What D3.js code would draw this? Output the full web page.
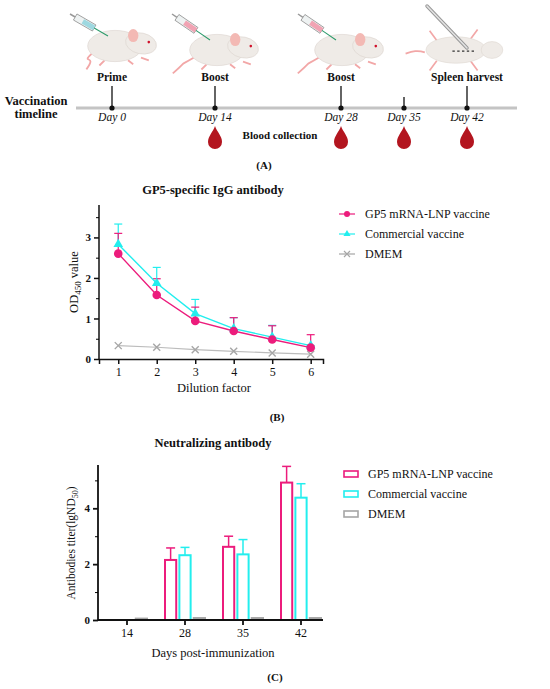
<!DOCTYPE html>
<html>
<head>
<meta charset="utf-8">
<script src="https://cdn.jsdelivr.net/npm/d3@7"></script>
<style>
  body { margin: 0; background: #fff; }
  svg text { font-family: "Liberation Serif", "DejaVu Serif", serif !important; fill: #111; }
</style>
</head>
<body>
<svg id="fig" width="550" height="689" font-family="Liberation Serif, DejaVu Serif, serif"></svg>
<script>
// ---- data ----
// panel A: timeline
const timelineDays = [0, 14, 28, 35, 42];
const eventLabels = ["Prime", "Boost", "Boost", "", "Spleen harvest"];
const bloodDays = [14, 28, 35, 42];

// panel B: GP5-specific IgG (OD450)
const dilutions = [1, 2, 3, 4, 5, 6];
const gp5Od = [2.60, 1.58, 0.94, 0.69, 0.48, 0.28];
const gp5OdUpper = [3.10, 1.98, 1.28, 1.02, 0.82, 0.60];
const comOd = [2.83, 1.87, 1.12, 0.75, 0.54, 0.33];
const comOdUpper = [3.33, 2.26, 1.47, 1.02, 0.83, 0.33];
const dmemOd = [0.33, 0.29, 0.23, 0.19, 0.15, 0.12];

// panel C: neutralizing antibody
const days = ["14", "28", "35", "42"];
const groups = ["GP5 mRNA-LNP vaccine", "Commercial vaccine", "DMEM"];
const gp5Titer = [0, 2.15, 2.62, 4.92];
const gp5TiterUpper = [0, 2.58, 3.00, 5.50];
const comTiter = [0, 2.32, 2.35, 4.38];
const comTiterUpper = [0, 2.60, 2.88, 4.88];
const dmemTiter = [0.05, 0.07, 0.07, 0.07];

const PINK = "#ec1c7c", CYAN = "#22eeee", GREY = "#a6a6a6";
const svg = d3.select("#fig");

// ================= panel A =================
const A = svg.append("g");
const tx = d3.scaleLinear().domain([0, 14, 42]).range([112, 215, 467]);

// little mouse drawings (decoration only)
function sideMouse(x, y, tailLen) {
  const m = A.append("g").attr("transform", `translate(${x},${y}) scale(1.3)`);
  m.append("path").attr("d", `M-18,6 C${-18 - tailLen * 0.4},14 ${-tailLen * 0.6},6 ${-tailLen},18`)
    .attr("fill", "none").attr("stroke", "#f2a7a7").attr("stroke-width", 1.4);
  m.append("path").attr("d", "M-8,11 l-4,4 M10,11 l4,3 M20,9 l6,2")
    .attr("stroke", "#f2a7a7").attr("stroke-width", 1.4);
  m.append("ellipse").attr("cx", 0).attr("cy", 0).attr("rx", 21).attr("ry", 12)
    .attr("fill", "#efebe7").attr("stroke", "#ddd6d0").attr("stroke-width", 0.5);
  m.append("ellipse").attr("cx", 20).attr("cy", -2).attr("rx", 12).attr("ry", 8)
    .attr("transform", "rotate(12,20,-2)")
    .attr("fill", "#efebe7").attr("stroke", "#ddd6d0").attr("stroke-width", 0.5);
  m.append("ellipse").attr("cx", 14).attr("cy", -8).attr("rx", 4).attr("ry", 5)
    .attr("fill", "#f3b9b4");
  m.append("circle").attr("cx", 26).attr("cy", -3).attr("r", 1).attr("fill", "#d0102a");
}
function syringe(x1, y1, x2, y2, col) {
  const ang = Math.atan2(y2 - y1, x2 - x1) * 180 / Math.PI;
  const len = Math.hypot(x2 - x1, y2 - y1);
  const s = A.append("g").attr("transform", `translate(${x1},${y1}) rotate(${ang})`);
  s.append("line").attr("x1", 0).attr("x2", 6).attr("y1", 0).attr("y2", 0).attr("stroke", "#999").attr("stroke-width", 1.5);
  s.append("rect").attr("x", 6).attr("y", -3.5).attr("width", len * 0.5).attr("height", 7)
    .attr("fill", "#eef2f2").attr("stroke", "#888").attr("stroke-width", 0.7);
  s.append("rect").attr("x", 6 + len * 0.2).attr("y", -2.5).attr("width", len * 0.3).attr("height", 5).attr("fill", col);
  s.append("line").attr("x1", 6 + len * 0.5).attr("x2", len).attr("y1", 0).attr("y2", 0).attr("stroke", "#2a9a6a").attr("stroke-width", 1);
}
sideMouse(115, 46, 22);
sideMouse(217, 50, 34);
sideMouse(342, 50, 34);
syringe(70, 14, 108, 36, "#9ed8e0");
syringe(172, 14, 210, 40, "#f1a3b3");
syringe(298, 14, 336, 40, "#f1a3b3");
// spleen-harvest mouse, seen from above
const sm = A.append("g").attr("transform", "translate(456,50) scale(1.2)");
sm.append("path").attr("d", "M-26,2 C-32,0 -36,1 -42,3").attr("fill", "none").attr("stroke", "#f2a7a7").attr("stroke-width", 1.4);
sm.append("path").attr("d", "M-16,-8 l-6,-8 M-16,9 l-6,8 M12,-9 l6,-8 M12,9 l6,8")
  .attr("stroke", "#f2a7a7").attr("stroke-width", 1.4);
sm.append("ellipse").attr("rx", 25).attr("ry", 11).attr("fill", "#efebe7").attr("stroke", "#ddd6d0").attr("stroke-width", 0.5);
sm.append("ellipse").attr("cx", 30).attr("cy", 0).attr("rx", 9).attr("ry", 7).attr("fill", "#efebe7").attr("stroke", "#ddd6d0").attr("stroke-width", 0.5);
sm.append("path").attr("d", "M-3,1 L16,1").attr("stroke", "#333").attr("stroke-dasharray", "2,2");
A.append("line").attr("x1", 427).attr("y1", 6).attr("x2", 467).attr("y2", 48)
  .attr("stroke", "#999").attr("stroke-width", 3.5).attr("stroke-linecap", "round");
A.append("line").attr("x1", 427).attr("y1", 6).attr("x2", 467).attr("y2", 48)
  .attr("stroke", "#e4e4e4").attr("stroke-width", 1.5).attr("stroke-linecap", "round");

A.append("line").attr("x1", 76).attr("x2", 517).attr("y1", 108).attr("y2", 108)
  .attr("stroke", "#c4c4c4").attr("stroke-width", 3);
A.selectAll(".tick-v").data(timelineDays).join("line")
  .attr("x1", d => tx(d)).attr("x2", d => tx(d))
  .attr("y1", d => d === 35 ? 97 : 86).attr("y2", 108)
  .attr("stroke", "#111").attr("stroke-width", 1.3);
A.selectAll(".dot").data(timelineDays).join("circle")
  .attr("cx", d => tx(d)).attr("cy", 108).attr("r", 2.6).attr("fill", "#111");
A.selectAll(".ev").data(timelineDays).join("text")
  .attr("x", d => tx(d)).attr("y", 81).attr("text-anchor", "middle")
  .attr("font-size", 11.5).attr("font-weight", "bold")
  .text((d, i) => eventLabels[i]);
A.selectAll(".day").data(timelineDays).join("text")
  .attr("x", d => tx(d)).attr("y", 121).attr("text-anchor", "middle")
  .attr("font-size", 11.5).attr("font-style", "italic")
  .text(d => "Day " + d);
A.selectAll(".drop").data(bloodDays).join("path")
  .attr("transform", d => `translate(${tx(d)},138)`)
  .attr("d", "M0,-12 C2,-6 7,-2 7,4 A7,7 0 0 1 -7,4 C-7,-2 -2,-6 0,-12Z")
  .attr("fill", "#b3151f");
A.append("text").attr("x", 280).attr("y", 139).attr("text-anchor", "middle")
  .attr("font-size", 11).attr("font-weight", "bold").text("Blood collection");
A.append("text").attr("x", 36).attr("y", 105).attr("text-anchor", "middle")
  .attr("font-size", 12.5).attr("font-weight", "bold").text("Vaccination");
A.append("text").attr("x", 36).attr("y", 118).attr("text-anchor", "middle")
  .attr("font-size", 12.5).attr("font-weight", "bold").text("timeline");
A.append("text").attr("x", 264).attr("y", 169).attr("text-anchor", "middle")
  .attr("font-size", 11).attr("font-weight", "bold").text("(A)");

// ================= panel B =================
const B = svg.append("g");
const xB = d3.scaleLinear().domain([0.5, 6.32]).range([99, 323]);
const yB = d3.scaleLinear().domain([0, 3.8]).range([359, 205]);

B.append("text").attr("x", 213).attr("y", 194).attr("text-anchor", "middle")
  .attr("font-size", 12.5).attr("font-weight", "bold").text("GP5-specific IgG antibody");

const axB = B.append("g").attr("transform", "translate(0,359)")
  .call(d3.axisBottom(xB).tickValues(dilutions).tickFormat(d3.format("d")).tickSize(5).tickPadding(3));
const ayB = B.append("g").attr("transform", "translate(99,0)")
  .call(d3.axisLeft(yB).tickValues([0, 1, 2, 3]).tickFormat(d3.format("d")).tickSize(5).tickPadding(3));
B.append("g").attr("transform", "translate(99,0)")
  .call(d3.axisLeft(yB).tickValues([0.5, 1.5, 2.5, 3.5]).tickFormat("").tickSize(3))
  .select(".domain").remove();
[axB, ayB].forEach(a => {
  a.attr("font-family", null);
  a.selectAll("path,line").attr("stroke", "#111").attr("stroke-width", 1.5);
  a.selectAll("text").attr("font-size", 12).attr("fill", "#111");
});
ayB.selectAll("text").attr("font-size", 11).attr("font-weight", "bold");
ayB.select(".domain").attr("d", "M0,205V359");

B.append("text").attr("x", 214).attr("y", 392).attr("text-anchor", "middle")
  .attr("font-size", 12.5).text("Dilution factor");
const ylB = B.append("text").attr("transform", "translate(78,282) rotate(-90)")
  .attr("text-anchor", "middle").attr("font-size", 12.5);
ylB.append("tspan").text("OD");
ylB.append("tspan").attr("font-size", 9).attr("dy", 3).text("450");
ylB.append("tspan").attr("dy", -3).text(" value");
B.append("text").attr("x", 277).attr("y", 421).attr("text-anchor", "middle")
  .attr("font-size", 11).attr("font-weight", "bold").text("(B)");

const lineGen = d3.line().x((d, i) => xB(dilutions[i])).y(d => yB(d));
function errUp(g, vals, ups, col) {
  g.selectAll(null).data(vals).join("line")
    .attr("x1", (d, i) => xB(dilutions[i])).attr("x2", (d, i) => xB(dilutions[i]))
    .attr("y1", d => yB(d)).attr("y2", (d, i) => yB(ups[i]))
    .attr("stroke", col).attr("stroke-width", 1.2);
  g.selectAll(null).data(ups).join("line")
    .attr("x1", (d, i) => xB(dilutions[i]) - 4).attr("x2", (d, i) => xB(dilutions[i]) + 4)
    .attr("y1", d => yB(d)).attr("y2", d => yB(d))
    .attr("stroke", col).attr("stroke-width", 1.2);
}
B.append("path").datum(dmemOd).attr("d", lineGen).attr("fill", "none").attr("stroke", "#bcbcbc").attr("stroke-width", 1.2);
B.selectAll(".xm").data(dmemOd).join("path")
  .attr("transform", (d, i) => `translate(${xB(dilutions[i])},${yB(d)})`)
  .attr("d", "M-3.5,-3.5L3.5,3.5M-3.5,3.5L3.5,-3.5").attr("stroke", GREY).attr("stroke-width", 1.4);

errUp(B, comOd, comOdUpper, CYAN);
errUp(B, gp5Od, gp5OdUpper, PINK);
B.append("path").datum(comOd).attr("d", lineGen).attr("fill", "none").attr("stroke", CYAN).attr("stroke-width", 1.4);
B.append("path").datum(gp5Od).attr("d", lineGen).attr("fill", "none").attr("stroke", PINK).attr("stroke-width", 1.4);
B.selectAll(".tri").data(comOd).join("path")
  .attr("transform", (d, i) => `translate(${xB(dilutions[i])},${yB(d)})`)
  .attr("d", d3.symbol(d3.symbolTriangle, 40)).attr("fill", CYAN);
B.selectAll(".circ").data(gp5Od).join("circle")
  .attr("cx", (d, i) => xB(dilutions[i])).attr("cy", d => yB(d)).attr("r", 4.3).attr("fill", PINK);

// legend B
const legB = B.append("g");
const legSym = [
  g => g.append("circle").attr("r", 3).attr("fill", PINK),
  g => g.append("path").attr("d", d3.symbol(d3.symbolTriangle, 22)).attr("fill", CYAN),
  g => g.append("path").attr("d", "M-3,-3L3,3M-3,3L3,-3").attr("stroke", GREY).attr("stroke-width", 1.2)
];
const legCol = [PINK, CYAN, GREY];
groups.forEach((name, i) => {
  const y = 214 + i * 20;
  legB.append("line").attr("x1", 339).attr("x2", 355).attr("y1", y).attr("y2", y)
    .attr("stroke", legCol[i]).attr("stroke-width", 1.2);
  legSym[i](legB.append("g").attr("transform", `translate(347,${y})`));
  legB.append("text").attr("x", 365).attr("y", y + 4).attr("font-size", 12).text(name);
});

// ================= panel C =================
const C = svg.append("g");
const xC = d3.scaleBand().domain(days).range([98, 330]);
const x1C = d3.scaleBand().domain(groups).range([0, 42]).paddingInner(0.08);
const yC = d3.scaleLinear().domain([0, 5.55]).range([620, 465]);

C.append("text").attr("x", 213).attr("y", 447).attr("text-anchor", "middle")
  .attr("font-size", 12.5).attr("font-weight", "bold").text("Neutralizing antibody");

const series = [
  { vals: gp5Titer, ups: gp5TiterUpper, col: PINK, fill: "#fff" },
  { vals: comTiter, ups: comTiterUpper, col: CYAN, fill: "#fff" },
  { vals: dmemTiter, ups: null, col: GREY, fill: GREY }
];
series.forEach((s, si) => {
  const bx = i => xC(days[i]) + xC.bandwidth() / 2 - 21 + x1C(groups[si]);
  const bw = x1C.bandwidth();
  if (s.ups) {
    const errs = s.ups.map((u, i) => ({ i, v: s.vals[i], u })).filter(e => e.u > e.v);
    C.selectAll(null).data(errs).join("line")
      .attr("x1", e => bx(e.i) + bw / 2).attr("x2", e => bx(e.i) + bw / 2)
      .attr("y1", e => yC(e.v)).attr("y2", e => yC(e.u))
      .attr("stroke", s.col).attr("stroke-width", 1.5);
    C.selectAll(null).data(errs).join("line")
      .attr("x1", e => bx(e.i) + bw / 2 - 4.5).attr("x2", e => bx(e.i) + bw / 2 + 4.5)
      .attr("y1", e => yC(e.u)).attr("y2", e => yC(e.u))
      .attr("stroke", s.col).attr("stroke-width", 1.5);
  }
  C.selectAll(null).data(s.vals).join("rect")
    .attr("x", (d, i) => bx(i) + 1).attr("width", bw - 2)
    .attr("y", d => yC(d)).attr("height", d => Math.max(0.01, yC(0) - yC(d)))
    .attr("fill", s.fill).attr("stroke", s.col).attr("stroke-width", 2);
});

const axC = C.append("g").attr("transform", "translate(0,620)")
  .call(d3.axisBottom(xC).tickSize(5).tickPadding(3));
axC.select(".domain").attr("d", "M98,0H323");
const ayC = C.append("g").attr("transform", "translate(98,0)")
  .call(d3.axisLeft(yC).tickValues([0, 2, 4]).tickFormat(d3.format("d")).tickSize(5).tickPadding(3));
ayC.select(".domain").attr("d", "M0,465V620");
C.append("g").attr("transform", "translate(98,0)")
  .call(d3.axisLeft(yC).tickValues([1, 3, 5]).tickFormat("").tickSize(3))
  .select(".domain").remove();
[axC, ayC].forEach(a => {
  a.attr("font-family", null);
  a.selectAll("path,line").attr("stroke", "#111").attr("stroke-width", 1.8);
  a.selectAll("text").attr("font-size", 12).attr("fill", "#111");
});
ayC.selectAll("text").attr("font-size", 11).attr("font-weight", "bold");

C.append("text").attr("x", 213).attr("y", 657).attr("text-anchor", "middle")
  .attr("font-size", 12.5).text("Days post-immunization");
const ylC = C.append("text").attr("transform", "translate(75,543) rotate(-90)")
  .attr("text-anchor", "middle").attr("font-size", 11.5);
ylC.append("tspan").text("Antibodies titer(lgND");
ylC.append("tspan").attr("font-size", 8).attr("dy", 3).text("50");
ylC.append("tspan").attr("dy", -3).text(")");
C.append("text").attr("x", 275).attr("y", 681).attr("text-anchor", "middle")
  .attr("font-size", 11).attr("font-weight", "bold").text("(C)");

// legend C
groups.forEach((name, i) => {
  const y = 474 + i * 20;
  C.append("rect").attr("x", 344).attr("y", y - 3).attr("width", 14).attr("height", 6)
    .attr("fill", "#fff").attr("stroke", legCol[i]).attr("stroke-width", 1.6);
  C.append("text").attr("x", 368).attr("y", y + 4).attr("font-size", 12).text(name);
});
</script>
</body>
</html>
